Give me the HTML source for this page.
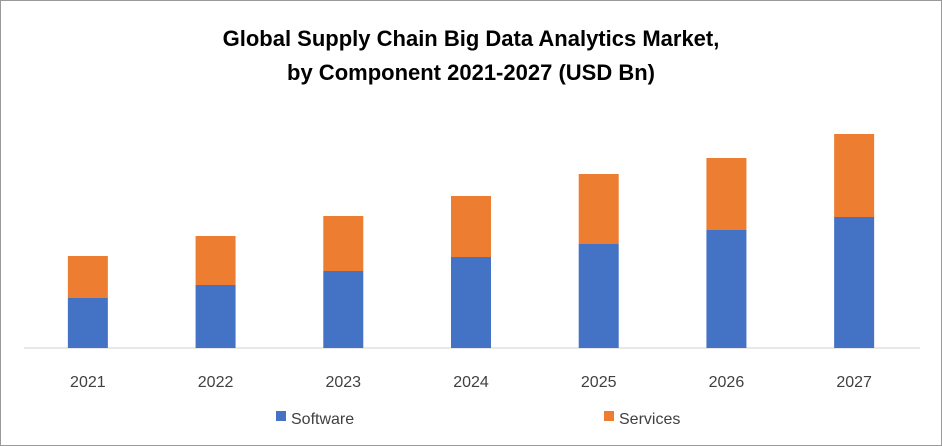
<!DOCTYPE html>
<html><head><meta charset="utf-8"><style>
body{margin:0;background:#fff;}
#wrap{position:relative;width:942px;height:446px;overflow:hidden;font-family:"Liberation Sans",sans-serif;}
#frame{position:absolute;left:0;top:0;width:940px;height:444px;border:1px solid #9a9a9a;}
</style></head><body>
<div id="wrap">
<div id="frame"></div>
<svg id="chart" width="942" height="446" style="position:absolute;left:0;top:0">
<text x="471" y="46" text-anchor="middle" font-size="22" font-weight="bold" fill="#000" font-family="Liberation Sans, sans-serif">Global Supply Chain Big Data Analytics Market,</text>
<text x="471" y="80" text-anchor="middle" font-size="22" font-weight="bold" fill="#000" font-family="Liberation Sans, sans-serif">by Component 2021-2027 (USD Bn)</text>
<line x1="24" y1="348" x2="920" y2="348" stroke="#d0d0d0" stroke-width="1"/>
<rect x="276" y="411" width="10" height="10" fill="#4472c4"/>
<text x="291" y="424" font-size="16" fill="#404040">Software</text>
<rect x="604" y="411" width="10" height="10" fill="#ed7d31"/>
<text x="619" y="424" font-size="16" fill="#404040">Services</text>
</svg>
</div>
<script>
const categories = ["2021","2022","2023","2024","2025","2026","2027"];
const software = [5.0,6.3,7.7,9.1,10.4,11.8,13.1];
const services = [4.2,4.9,5.5,6.1,7.0,7.2,8.3];
const svg = document.getElementById('chart');
const NS = 'http://www.w3.org/2000/svg';
const left = 24, right = 918, base = 348, pxPerUnit = 10, barW = 40;
const band = (right - left) / categories.length;
const xc = i => left + band * (i + 0.5);
const y = v => base - v * pxPerUnit;
categories.forEach((c, i) => {
  const s = document.createElementNS(NS, 'rect');
  s.setAttribute('x', xc(i) - barW / 2);
  s.setAttribute('y', y(software[i]));
  s.setAttribute('width', barW);
  s.setAttribute('height', base - y(software[i]));
  s.setAttribute('fill', '#4472c4');
  
  
  svg.appendChild(s);
  const t = document.createElementNS(NS, 'rect');
  t.setAttribute('x', xc(i) - barW / 2);
  t.setAttribute('y', y(software[i] + services[i]));
  t.setAttribute('width', barW);
  t.setAttribute('height', services[i] * pxPerUnit);
  t.setAttribute('fill', '#ed7d31');
  
  
  svg.appendChild(t);
  const l = document.createElementNS(NS, 'text');
  l.setAttribute('x', xc(i));
  l.setAttribute('y', 387);
  l.setAttribute('text-anchor', 'middle');
  l.setAttribute('font-size', '16');
  l.setAttribute('fill', '#404040');
  l.textContent = c;
  
  
  svg.appendChild(l);
});
</script>
</body></html>
